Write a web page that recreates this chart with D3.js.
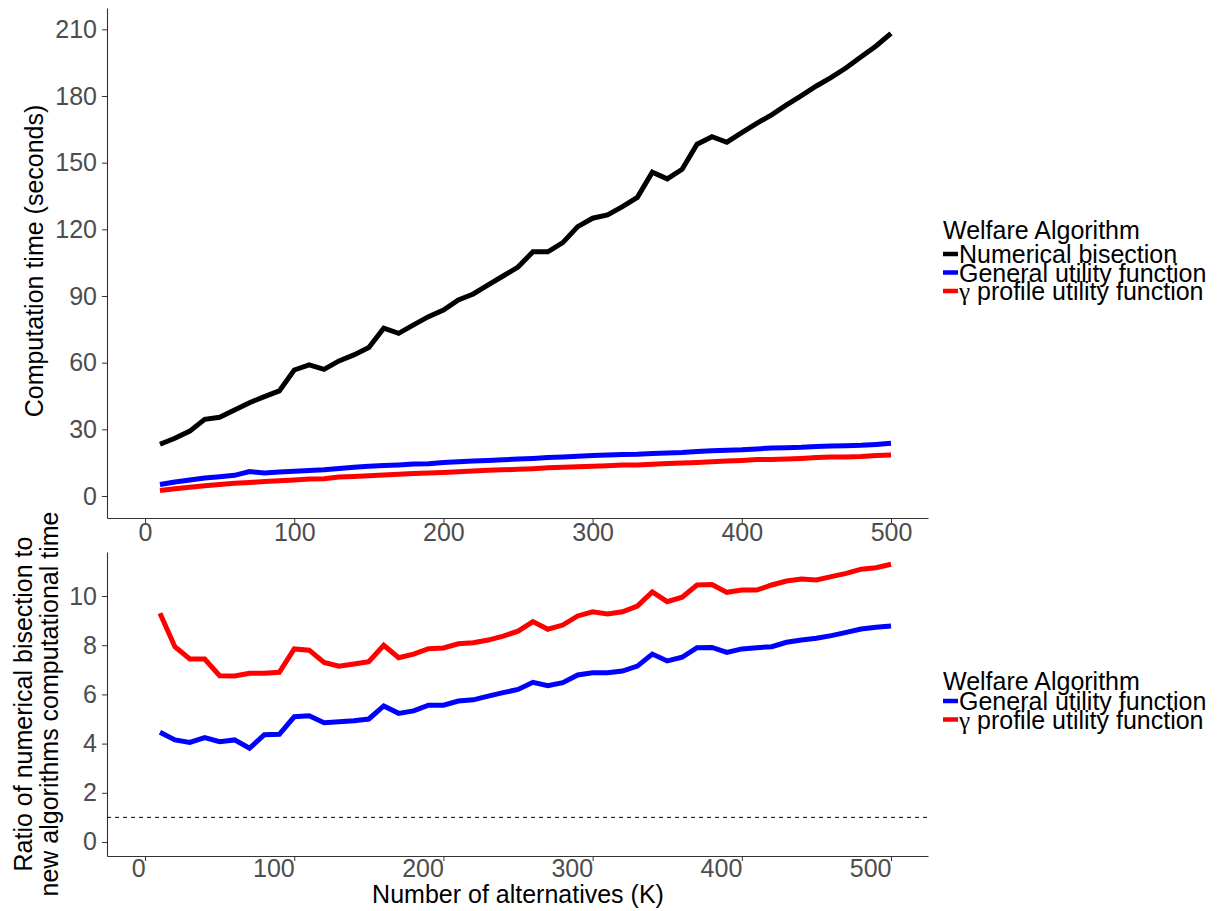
<!DOCTYPE html>
<html>
<head>
<meta charset="utf-8">
<script src="https://cdn.jsdelivr.net/npm/d3@7"></script>
<style>
  body { margin: 0; background: #fff; }
  svg text { font-family: 'Liberation Sans', Arial, sans-serif; }
</style>
</head>
<body>
<div id="chart"></div>
<script>
// number of alternatives (K)
const alternatives = d3.range(10, 501, 10);

// computation time in seconds
const timeBisection = [
  23.3, 26.0, 29.2, 34.5, 35.4, 38.7, 42.0, 44.7, 47.3, 56.7,
  59.0, 57.0, 60.8, 63.5, 66.8, 75.5, 73.2, 77.0, 80.7, 83.7,
  88.2, 90.9, 95.0, 99.0, 103.0, 109.9, 109.9, 114.0, 121.2, 125.0,
  126.5, 130.2, 134.4, 145.7, 142.7, 147.0, 158.3, 161.7, 159.2, 163.5,
  167.7, 171.5, 176.0, 180.2, 184.5, 188.4, 192.7, 197.7, 202.5, 208.2
];
const timeGeneral = [
  5.2, 6.3, 7.2, 8.1, 8.7, 9.3, 11.0, 10.3, 10.8, 11.1,
  11.5, 11.8, 12.4, 12.9, 13.4, 13.7, 14.0, 14.4, 14.5, 15.1,
  15.4, 15.7, 16.0, 16.3, 16.6, 16.9, 17.3, 17.6, 17.9, 18.2,
  18.4, 18.7, 18.8, 19.1, 19.4, 19.6, 20.0, 20.4, 20.6, 20.8,
  21.2, 21.6, 21.7, 21.9, 22.3, 22.5, 22.6, 22.8, 23.2, 23.7
];
const timeGamma = [
  2.5, 3.3, 3.9, 4.6, 5.2, 5.7, 6.1, 6.5, 6.9, 7.2,
  7.6, 7.8, 8.5, 8.8, 9.1, 9.4, 9.8, 10.1, 10.3, 10.6,
  10.9, 11.2, 11.6, 11.8, 12.0, 12.3, 12.7, 12.9, 13.2, 13.4,
  13.6, 13.9, 14.0, 14.3, 14.6, 14.8, 15.1, 15.4, 15.7, 16.0,
  16.4, 16.4, 16.6, 16.9, 17.3, 17.5, 17.6, 17.8, 18.2, 18.4
];

// ratio of bisection time to new algorithm time
const ratioGeneral = [
  4.46, 4.15, 4.05, 4.24, 4.08, 4.15, 3.81, 4.36, 4.38, 5.09,
  5.13, 4.85, 4.89, 4.93, 5.00, 5.53, 5.23, 5.33, 5.56, 5.56,
  5.73, 5.78, 5.93, 6.07, 6.20, 6.49, 6.35, 6.48, 6.79, 6.88,
  6.88, 6.95, 7.15, 7.64, 7.36, 7.51, 7.90, 7.91, 7.71, 7.85,
  7.90, 7.94, 8.12, 8.21, 8.28, 8.39, 8.52, 8.66, 8.73, 8.78
];
const ratioGamma = [
  9.30, 7.94, 7.44, 7.44, 6.76, 6.75, 6.86, 6.86, 6.90, 7.85,
  7.80, 7.30, 7.15, 7.24, 7.33, 8.00, 7.49, 7.64, 7.86, 7.89,
  8.06, 8.10, 8.21, 8.37, 8.57, 8.96, 8.65, 8.82, 9.19, 9.36,
  9.27, 9.36, 9.59, 10.17, 9.77, 9.95, 10.45, 10.47, 10.15, 10.24,
  10.24, 10.45, 10.61, 10.69, 10.65, 10.79, 10.92, 11.09, 11.15, 11.29
];

const xTicks = [0, 100, 200, 300, 400, 500];
const timeTicks = [0, 30, 60, 90, 120, 150, 180, 210];
const ratioTicks = [0, 2, 4, 6, 8, 10];

const legendTitle = 'Welfare Algorithm';
const topSeries = [
  { name: 'Numerical bisection', values: timeBisection, color: '#000000' },
  { name: 'General utility function', values: timeGeneral, color: '#0000ff' },
  { name: 'profile utility function', values: timeGamma, color: '#ff0000', gamma: true }
];
const bottomSeries = [
  { name: 'General utility function', values: ratioGeneral, color: '#0000ff' },
  { name: 'profile utility function', values: ratioGamma, color: '#ff0000', gamma: true }
];

const width = 1220;
const height = 911;

const svg = d3
  .select('#chart')
  .append('svg')
  .attr('width', width)
  .attr('height', height);

const left = 107;
const right = 928;

const x = d3.scaleLinear().domain([-25.5, 524.8]).range([left, right]);
const yTime = d3.scaleLinear().domain([-9.9, 219.6]).range([518, 8]);
const yRatio = d3.scaleLinear().domain([-0.57, 11.79]).range([856, 552]);

function drawPanel(y, ticks, series, xAnchor) {
  const g = svg.append('g');
  const bottom = y.range()[0];

  const xAxis = g
    .append('g')
    .attr('transform', `translate(0,${bottom})`)
    .call(d3.axisBottom(x).tickValues(xTicks).tickSize(5).tickSizeOuter(0));
  xAxis.select('.domain').attr('stroke', '#333').attr('stroke-width', 1.1);
  xAxis.selectAll('.tick line').attr('stroke', '#333');
  xAxis
    .selectAll('.tick text')
    .attr('fill', '#4d4d4d')
    .style('font-size', '25px')
    .attr('dy', null)
    .attr('y', xAnchor === 'end' ? 21 : 23)
    .attr('text-anchor', xAnchor);

  const yAxis = g
    .append('g')
    .attr('transform', `translate(${left},0)`)
    .call(d3.axisLeft(y).tickValues(ticks).tickSize(5).tickSizeOuter(0).tickPadding(5));
  yAxis.select('.domain').attr('stroke', '#333').attr('stroke-width', 1.1);
  yAxis.selectAll('.tick line').attr('stroke', '#333');
  yAxis.selectAll('.tick text').attr('fill', '#4d4d4d').style('font-size', '25px');

  const line = d3
    .line()
    .x((d, i) => x(alternatives[i]))
    .y((d) => y(d));

  series.forEach((s) => {
    g.append('path')
      .datum(s.values)
      .attr('d', line)
      .attr('fill', 'none')
      .attr('stroke', s.color)
      .attr('stroke-width', 5);
  });
  return g;
}

drawPanel(yTime, timeTicks, topSeries, 'middle');
const bottomPanel = drawPanel(yRatio, ratioTicks, bottomSeries, 'end');

// reference line at ratio = 1
bottomPanel
  .append('line')
  .attr('x1', left)
  .attr('x2', right)
  .attr('y1', yRatio(1))
  .attr('y2', yRatio(1))
  .attr('stroke', '#000')
  .attr('stroke-width', 1)
  .attr('stroke-dasharray', '4,4');

// axis titles
svg
  .append('text')
  .attr('transform', 'translate(43,261) rotate(-90)')
  .attr('text-anchor', 'middle')
  .style('font-size', '25px')
  .text('Computation time (seconds)');

svg
  .append('text')
  .attr('transform', 'translate(32,704) rotate(-90)')
  .attr('text-anchor', 'middle')
  .style('font-size', '25px')
  .text('Ratio of numerical bisection to');

svg
  .append('text')
  .attr('transform', 'translate(58,704) rotate(-90)')
  .attr('text-anchor', 'middle')
  .style('font-size', '25px')
  .text('new algorithms computational time');

svg
  .append('text')
  .attr('x', 518)
  .attr('y', 903)
  .attr('text-anchor', 'middle')
  .style('font-size', '25px')
  .text('Number of alternatives (K)');

// legends
function drawLegend(series, titleY, firstY, step) {
  const lg = svg.append('g');
  lg.append('text')
    .attr('x', 943)
    .attr('y', titleY)
    .style('font-size', '25px')
    .text(legendTitle);

  series.forEach((s, i) => {
    const yy = firstY + i * step;
    lg.append('line')
      .attr('x1', 943)
      .attr('x2', 958)
      .attr('y1', yy - 9)
      .attr('y2', yy - 9)
      .attr('stroke', s.color)
      .attr('stroke-width', 4.5);
    const t = lg
      .append('text')
      .attr('x', 959)
      .attr('y', yy)
      .style('font-size', '25px');
    if (s.gamma) {
      t.append('tspan')
        .style('font-family', "'Liberation Serif', 'Times New Roman', serif")
        .text('\u03b3');
      t.append('tspan').text(' ' + s.name);
    } else {
      t.text(s.name);
    }
  });
}

drawLegend(topSeries, 239, 263, 18.5);
drawLegend(bottomSeries, 690, 710, 18.5);
</script>
</body>
</html>
